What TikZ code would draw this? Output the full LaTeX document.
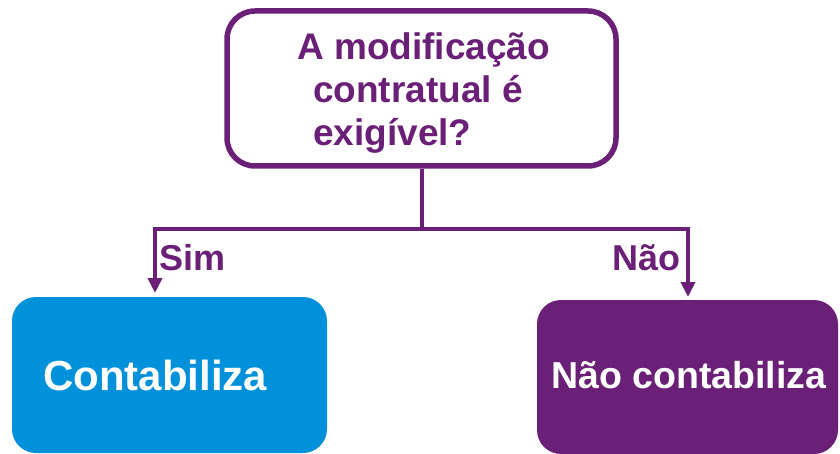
\documentclass[tikz,border=0pt]{standalone}
\usepackage{fontspec}
\setmainfont{Liberation Sans}
\usetikzlibrary{arrows.meta}
\definecolor{kpurple}{RGB}{107,32,119}
\definecolor{kblue}{RGB}{0,145,218}
\begin{document}
\begin{tikzpicture}[x=1pt,y=-1pt,
  qbox/.style={draw=kpurple, line width=5.5pt, rounded corners=28pt, fill=white,
    minimum width=389pt, minimum height=155pt, inner sep=0pt},
  qtext/.style={text=kpurple, font=\fontsize{37}{43}\selectfont\bfseries, align=left, inner sep=0pt},
  conn/.style={draw=kpurple, line width=4pt},
  tip/.style={-{Triangle[length=15pt,width=14pt]}},
  lbl/.style={text=kpurple, font=\fontsize{36}{40}\selectfont\bfseries, inner sep=0pt},
  resbox/.style={rounded corners=24pt, inner sep=0pt},
  restext/.style={text=white, inner sep=0pt}
]
\useasboundingbox (0,0) rectangle (840,454);
% question box
\node[qbox] (q) at (421.5,88.5) {};
\node[qtext, anchor=base west] (qt) at (297,146) {A modificação\\\hspace*{16pt}contratual é\\\hspace*{16pt}exigível?};
% result boxes
\node[resbox, fill=kblue, minimum width=315pt, minimum height=156pt] (c) at (169.5,375) {};
\node[restext, font=\fontsize{42}{48}\selectfont\bfseries, anchor=base west] (ct) at (43,390) {Contabiliza};
\node[resbox, fill=kpurple, minimum width=301pt, minimum height=154pt] (n) at (687.5,377) {};
\node[restext, font=\fontsize{37.5}{43}\selectfont\bfseries, anchor=base west] (nt) at (551,388) {Não contabiliza};
% connectors
\coordinate (j) at (q.south |- 0,229);
\coordinate (al) at (155,293);
\coordinate (ar) at (688,297);
\draw[conn] (q.south) -- (j);
\draw[conn, tip] (j) -| (al);
\draw[conn, tip] (j) -| (ar);
% labels
\node[lbl, anchor=base west] (sim) at (159,270) {Sim};
\node[lbl, anchor=base east] (nao) at (681,270) {Não};
\end{tikzpicture}
\end{document}
